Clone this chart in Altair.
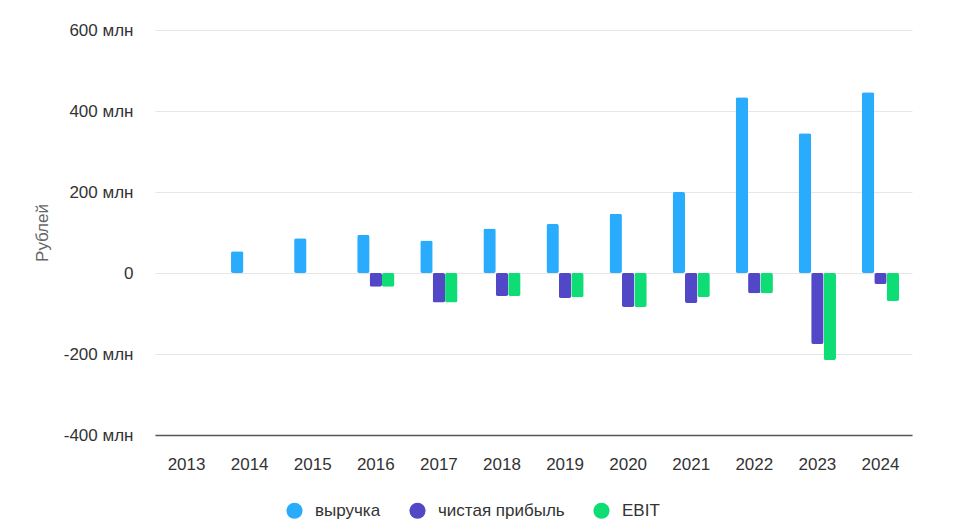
import altair as alt
import pandas as pd

years = [str(y) for y in range(2013, 2025)]
revenue = [0, 54, 86, 94, 80, 110, 121, 146, 200, 434, 345, 446]
net_profit = [0, 0, 0, -34, -73, -57, -62, -84, -74, -50, -175, -27]
ebit = [0, 0, 0, -34, -73, -57, -60, -84, -59, -50, -215, -69]

series_names = ["выручка", "чистая прибыль", "EBIT"]
series_colors = ["#29ABFE", "#5147C7", "#0EDC74"]

rows = []
for i, y in enumerate(years):
    for name, vals in zip(series_names, [revenue, net_profit, ebit]):
        if vals[i] != 0:
            rows.append({"year": y, "series": name, "value": vals[i]})
df = pd.DataFrame(rows)

font = "Liberation Sans"

chart = alt.Chart(df).mark_bar(cornerRadius=2).encode(
    x=alt.X("year:N", sort=years, scale=alt.Scale(domain=years, paddingInner=0.41, paddingOuter=0.205),
            axis=alt.Axis(title=None, labelAngle=0, ticks=False, domainColor="#555555", domainWidth=1.5,
                          labelFontSize=17, labelColor="#333333", labelPadding=21, labelFont=font)),
    xOffset=alt.XOffset("series:N", sort=series_names, scale=alt.Scale(domain=series_names, paddingInner=0, paddingOuter=0)),
    y=alt.Y("value:Q", scale=alt.Scale(domain=[-400, 600], nice=False),
            axis=alt.Axis(title="Рублей", values=[-400, -200, 0, 200, 400, 600], domain=False, ticks=False,
                          labelExpr="datum.value == 0 ? '0' : datum.value + ' млн'",
                          labelFontSize=17, labelColor="#333333", labelPadding=22, labelFont=font,
                          gridColor="#e6e6e6", titleFontSize=17, titleColor="#666666", titleFont=font,
                          titleFontWeight="normal", titlePadding=12)),
    color=alt.Color("series:N", sort=series_names,
                    scale=alt.Scale(domain=series_names, range=series_colors),
                    legend=alt.Legend(title=None, orient="none", direction="horizontal", legendX=131, legendY=472,
                                      symbolType="circle", symbolSize=260, symbolStrokeWidth=0,
                                      labelFontSize=17, labelColor="#333333", labelFont=font,
                                      columnPadding=28, labelOffset=12)),
).properties(
    width=757, height=405,
    autosize=alt.AutoSizeParams(type="none"),
    padding={"left": 147, "top": 22, "right": 54, "bottom": 100},
).configure_view(stroke=None)

chart.save("out.html", embed_options={"renderer": "svg", "actions": False})
